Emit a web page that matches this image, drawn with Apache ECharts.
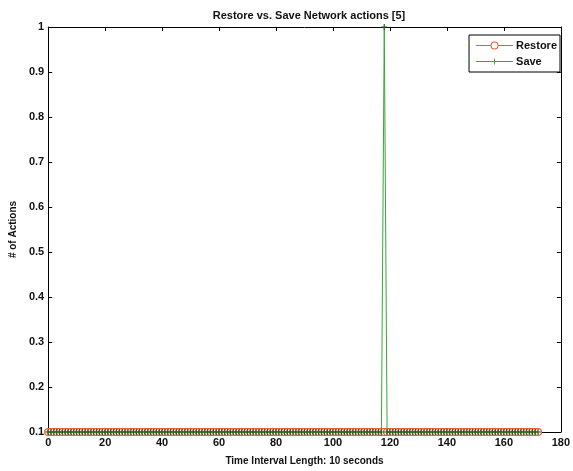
<!DOCTYPE html>
<html>
<head>
<meta charset="utf-8">
<script src="https://cdn.jsdelivr.net/npm/echarts@6/dist/echarts.min.js"></script>
<style>html,body{margin:0;padding:0;background:#fff;}#c{width:573px;height:471px;}</style>
</head>
<body>
<div id="c"></div>
<script>
const titleText = 'Restore vs. Save Network actions [5]';
const xAxisName = 'Time Interval Length: 10 seconds';
const yAxisName = '# of Actions';
const seriesNames = ['Restore', 'Save'];
const xTicks = [0, 20, 40, 60, 80, 100, 120, 140, 160, 180];
const yTicks = [0.1, 0.2, 0.3, 0.4, 0.5, 0.6, 0.7, 0.8, 0.9, 1];

const restoreValues = [
0.1,0.1,0.1,0.1,0.1,0.1,0.1,0.1,0.1,0.1,
0.1,0.1,0.1,0.1,0.1,0.1,0.1,0.1,0.1,0.1,
0.1,0.1,0.1,0.1,0.1,0.1,0.1,0.1,0.1,0.1,
0.1,0.1,0.1,0.1,0.1,0.1,0.1,0.1,0.1,0.1,
0.1,0.1,0.1,0.1,0.1,0.1,0.1,0.1,0.1,0.1,
0.1,0.1,0.1,0.1,0.1,0.1,0.1,0.1,0.1,0.1,
0.1,0.1,0.1,0.1,0.1,0.1,0.1,0.1,0.1,0.1,
0.1,0.1,0.1,0.1,0.1,0.1,0.1,0.1,0.1,0.1,
0.1,0.1,0.1,0.1,0.1,0.1,0.1,0.1,0.1,0.1,
0.1,0.1,0.1,0.1,0.1,0.1,0.1,0.1,0.1,0.1,
0.1,0.1,0.1,0.1,0.1,0.1,0.1,0.1,0.1,0.1,
0.1,0.1,0.1,0.1,0.1,0.1,0.1,0.1,0.1,0.1,
0.1,0.1,0.1,0.1,0.1,0.1,0.1,0.1,0.1,0.1,
0.1,0.1,0.1,0.1,0.1,0.1,0.1,0.1,0.1,0.1,
0.1,0.1,0.1,0.1,0.1,0.1,0.1,0.1,0.1,0.1,
0.1,0.1,0.1,0.1,0.1,0.1,0.1,0.1,0.1,0.1,
0.1,0.1,0.1,0.1,0.1,0.1,0.1,0.1,0.1,0.1,
0.1,0.1,0.1
];

const saveValues = [
0.1,0.1,0.1,0.1,0.1,0.1,0.1,0.1,0.1,0.1,
0.1,0.1,0.1,0.1,0.1,0.1,0.1,0.1,0.1,0.1,
0.1,0.1,0.1,0.1,0.1,0.1,0.1,0.1,0.1,0.1,
0.1,0.1,0.1,0.1,0.1,0.1,0.1,0.1,0.1,0.1,
0.1,0.1,0.1,0.1,0.1,0.1,0.1,0.1,0.1,0.1,
0.1,0.1,0.1,0.1,0.1,0.1,0.1,0.1,0.1,0.1,
0.1,0.1,0.1,0.1,0.1,0.1,0.1,0.1,0.1,0.1,
0.1,0.1,0.1,0.1,0.1,0.1,0.1,0.1,0.1,0.1,
0.1,0.1,0.1,0.1,0.1,0.1,0.1,0.1,0.1,0.1,
0.1,0.1,0.1,0.1,0.1,0.1,0.1,0.1,0.1,0.1,
0.1,0.1,0.1,0.1,0.1,0.1,0.1,0.1,0.1,0.1,
0.1,0.1,0.1,0.1,0.1,0.1,0.1,0.1,1,0.1,
0.1,0.1,0.1,0.1,0.1,0.1,0.1,0.1,0.1,0.1,
0.1,0.1,0.1,0.1,0.1,0.1,0.1,0.1,0.1,0.1,
0.1,0.1,0.1,0.1,0.1,0.1,0.1,0.1,0.1,0.1,
0.1,0.1,0.1,0.1,0.1,0.1,0.1,0.1,0.1,0.1,
0.1,0.1,0.1,0.1,0.1,0.1,0.1,0.1,0.1,0.1,
0.1,0.1,0.1
];

const FONT = 'Liberation Sans';
const restoreColor = '#ea5a2e';
const saveColor = '#3aa63a';
const plusPath = 'path://M4,0H6V4H10V6H6V10H4V6H0V4H4Z';
const restoreLegendIcon = 'path://M0,3.5H14.6V4.5H0Z M22.4,3.5H37V4.5H22.4Z ' +
  'M22.5,4A4,4 0 1 0 14.5,4A4,4 0 1 0 22.5,4Z M21.5,4A3,3 0 1 1 15.5,4A3,3 0 1 1 21.5,4Z';
const saveLegendIcon = 'path://M0,3.5H37V4.5H0Z M18,1H19V7H18Z M0,0H0.01V0.01H0Z M0,7.99H0.01V8H0Z';

const chart = echarts.init(document.getElementById('c'), null, {renderer: 'canvas'});

const xMin = xTicks[0], xMax = xTicks[xTicks.length - 1];
const yMin = yTicks[0], yMax = yTicks[yTicks.length - 1];

const axisCommon = {
  axisLine: {show: true, onZero: false, lineStyle: {color: '#000', width: 1}},
  axisTick: {show: true, inside: true, length: 4, lineStyle: {color: '#000'}},
  splitLine: {show: false}
};

chart.setOption({
  animation: false,
  backgroundColor: '#fff',
  title: {
    text: titleText, left: 304, top: 5, textAlign: 'center',
    textStyle: {fontFamily: FONT, fontWeight: 'bold', fontSize: 11, color: '#111'}
  },
  legend: {
    data: [
      {name: seriesNames[0], icon: restoreLegendIcon, itemStyle: {color: restoreColor, borderWidth: 0}},
      {name: seriesNames[1], icon: saveLegendIcon, itemStyle: {color: saveColor, borderWidth: 0}}
    ],
    orient: 'vertical', right: 13, top: 35,
    itemWidth: 37, itemHeight: 8, itemGap: 5,
    padding: [5, 3, 5, 7],
    borderColor: '#000', borderWidth: 1, backgroundColor: '#fff',
    textStyle: {fontFamily: FONT, fontWeight: 'bold', fontSize: 11, color: '#111', padding: [0,0,0,-2]}
  },
  grid: {left: 48, right: 8, top: 27, bottom: 39, containLabel: false},
  xAxis: [
    Object.assign({}, axisCommon, {
      type: 'value', min: xMin, max: xMax, interval: xTicks[1] - xTicks[0],
      name: xAxisName, nameLocation: 'middle', nameGap: 24,
      nameTextStyle: {fontFamily: FONT, fontWeight: 'bold', fontSize: 10, color: '#111'},
      axisLabel: {fontFamily: FONT, fontWeight: 'bold', fontSize: 11, color: '#111', margin: 5}
    }),
    Object.assign({}, axisCommon, {
      type: 'value', position: 'top', min: xMin, max: xMax, interval: xTicks[1] - xTicks[0],
      axisLabel: {show: false}
    })
  ],
  yAxis: [
    Object.assign({}, axisCommon, {
      type: 'value', min: yMin, max: yMax, interval: 0.1,
      name: yAxisName, nameLocation: 'middle', nameGap: 25, nameRotate: 90,
      nameTextStyle: {fontFamily: FONT, fontWeight: 'bold', fontSize: 10, color: '#111'},
      axisLabel: {fontFamily: FONT, fontWeight: 'bold', fontSize: 11, color: '#111', margin: 4,
        formatter: v => String(Math.round(v * 10) / 10)}
    }),
    Object.assign({}, axisCommon, {
      type: 'value', position: 'right', min: yMin, max: yMax, interval: 0.1,
      axisLabel: {show: false}
    })
  ],
  series: [
    {
      name: seriesNames[0], type: 'line', color: restoreColor,
      data: restoreValues.map((v, i) => [i, v]),
      symbol: 'circle', symbolSize: 7, showAllSymbol: true,
      lineStyle: {color: restoreColor, width: 1},
      itemStyle: {color: '#fff', borderColor: restoreColor, borderWidth: 1.2},
      z: 2
    },
    {
      name: seriesNames[1], type: 'line', color: saveColor,
      data: saveValues.map((v, i) => [i, v]),
      symbol: plusPath, symbolSize: 6, showAllSymbol: true,
      lineStyle: {color: saveColor, width: 1},
      itemStyle: {color: '#265f26'},
      z: 3
    }
  ]
});
</script>
</body>
</html>
